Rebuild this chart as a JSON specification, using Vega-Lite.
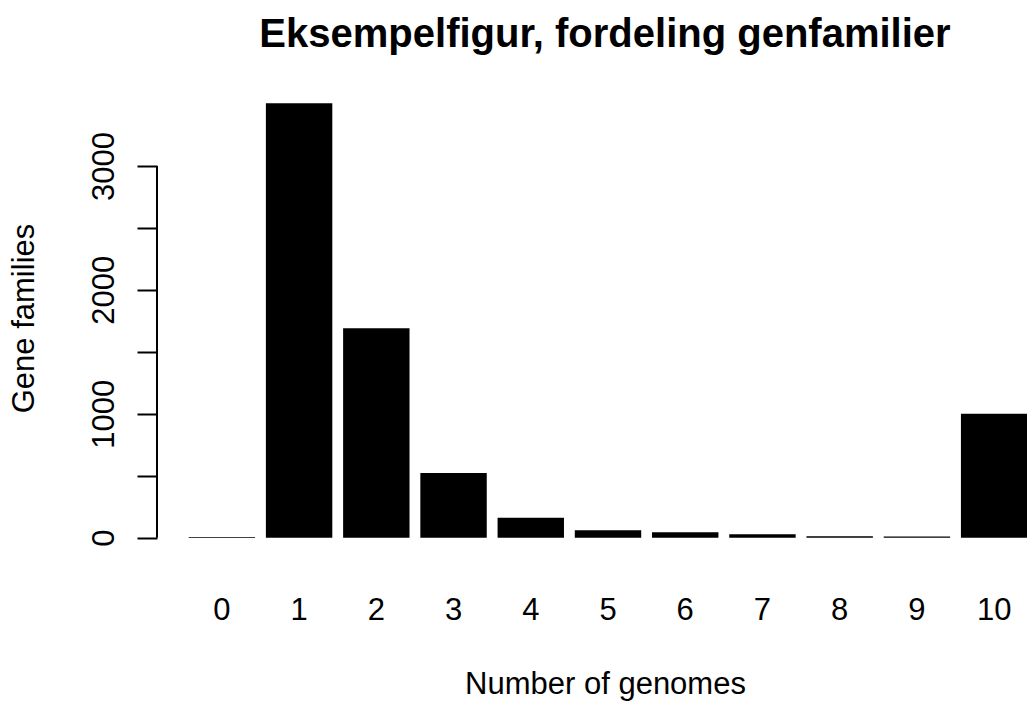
{
  "$schema": "https://vega.github.io/schema/vega-lite/v6.json",
  "width": 870,
  "height": 469,
  "autosize": {"type": "none"},
  "padding": {"left": 157, "top": 86, "right": 0, "bottom": 149},
  "background": "white",
  "config": {
    "view": {"stroke": null},
    "font": "Liberation Sans",
    "axis": {"grid": false, "labelColor": "black", "titleColor": "black", "tickColor": "black"}
  },
  "title": {
    "text": "Eksempelfigur, fordeling genfamilier",
    "fontSize": 40,
    "fontWeight": "bold",
    "color": "black",
    "anchor": "middle",
    "frame": "group",
    "baseline": "alphabetic",
    "offset": -1,
    "dx": 13
  },
  "data": {
    "values": [
      {"genomes": 0, "families": 6},
      {"genomes": 1, "families": 3505},
      {"genomes": 2, "families": 1690},
      {"genomes": 3, "families": 522},
      {"genomes": 4, "families": 160},
      {"genomes": 5, "families": 60},
      {"genomes": 6, "families": 44},
      {"genomes": 7, "families": 28},
      {"genomes": 8, "families": 11},
      {"genomes": 9, "families": 10},
      {"genomes": 10, "families": 1000}
    ]
  },
  "layer": [
    {
      "mark": {"type": "bar", "color": "black", "clip": false},
      "encoding": {
        "x": {
          "field": "genomes",
          "type": "ordinal",
          "sort": "ascending",
          "scale": {"range": [0, 902], "paddingInner": 0.14, "paddingOuter": 0.41},
          "axis": {
            "title": "Number of genomes",
            "labelAngle": 0,
            "domain": false,
            "ticks": false,
            "tickSize": 0,
            "labelPadding": 64,
            "labelBaseline": "alphabetic",
            "labelFontSize": 31,
            "titleFontSize": 31,
            "titleFontWeight": "normal",
            "titleX": 448,
            "titleY": 138,
            "titleAlign": "center",
            "titleBaseline": "alphabetic"
          }
        },
        "y": {
          "field": "families",
          "type": "quantitative",
          "scale": {"domain": [-140, 3645], "nice": false, "zero": false},
          "axis": {
            "title": "Gene families",
            "values": [0, 500, 1000, 1500, 2000, 2500, 3000],
            "format": "d",
            "labelExpr": "datum.value % 1000 === 0 ? datum.label : ''",
            "domain": false,
            "tickSize": 20,
            "tickWidth": 2,
            "labelAngle": -90,
            "labelAlign": "center",
            "labelBaseline": "alphabetic",
            "labelPadding": 24,
            "labelFontSize": 31,
            "labelOverlap": false,
            "titleFontSize": 31,
            "titleFontWeight": "normal",
            "titleAngle": -90,
            "titleX": -124,
            "titleY": 232,
            "titleAlign": "center",
            "titleBaseline": "alphabetic"
          }
        }
      }
    },
    {
      "data": {"values": [{"lo": 0, "hi": 3000}]},
      "mark": {"type": "rule", "color": "black", "strokeWidth": 2},
      "encoding": {
        "y": {"field": "lo", "type": "quantitative"},
        "y2": {"field": "hi"},
        "x": {"value": 0}
      }
    }
  ]
}
